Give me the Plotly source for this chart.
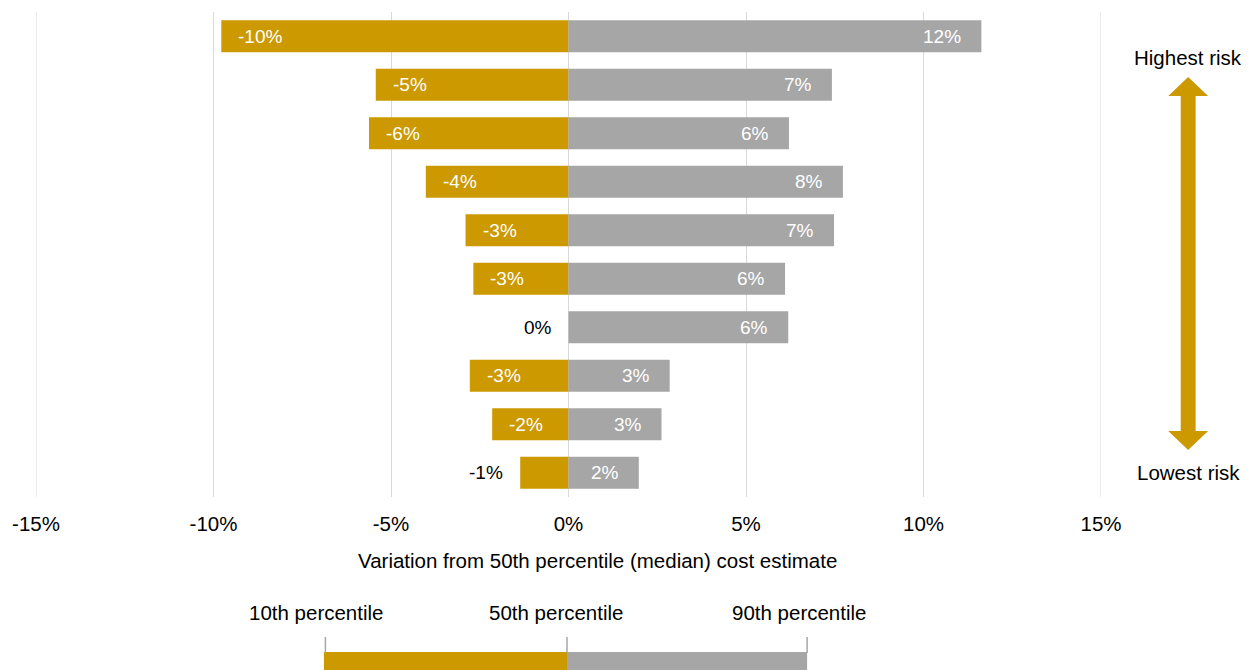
import plotly.graph_objects as go

# ---- data ----
rows = ["R1", "R2", "R3", "R4", "R5", "R6", "R7", "R8", "R9", "R10"]
p10_variation = [-9.78, -5.43, -5.62, -4.02, -2.90, -2.68, 0.0, -2.78, -2.15, -1.36]
p90_variation = [11.63, 7.42, 6.21, 7.73, 7.48, 6.10, 6.19, 2.85, 2.62, 1.98]
tick_values = [-15, -10, -5, 0, 5, 10, 15]
tick_labels = ["-15%", "-10%", "-5%", "0%", "5%", "10%", "15%"]
legend_labels = ["10th percentile", "50th percentile", "90th percentile"]
axis_title = "Variation from 50th percentile (median) cost estimate"

GOLD = "#CC9900"
GREY = "#A6A6A6"
GRID = "#D9D9D9"
FONT = "Liberation Sans, Arial, sans-serif"

OFFX, OFFY = 9, 8  # page offset of the figure
W, H = 1252 - 8, 670 - 8
L, T = 33 - OFFX, 12 - OFFY
PW, PH = 1069, 485
R = W - L - PW
B = H - T - PH


def px(xp):
    return (xp - OFFX - L) / PW


def py(yp):
    return (T + PH - (yp - OFFY)) / PH


fig = go.Figure()
fig.add_trace(go.Bar(y=rows, x=p10_variation, orientation="h", marker_color=GOLD,
                     marker_line_width=0, width=0.66, name="10th", hoverinfo="x"))
fig.add_trace(go.Bar(y=rows, x=p90_variation, orientation="h", marker_color=GREY,
                     marker_line_width=0, width=0.66, name="90th", hoverinfo="x"))


def fmt(v):
    r = int(round(v))
    return f"{r}%"


annotations = []
for cat, v in zip(rows, p10_variation):
    inside = abs(v) >= 1.5
    annotations.append(dict(
        x=v, y=cat, xref="x", yref="y", text=fmt(v), showarrow=False,
        xanchor="left" if inside else "right", xshift=15 if inside else -15,
        font=dict(family=FONT, size=19, color="white" if inside else "black")))
for cat, v in zip(rows, p90_variation):
    annotations.append(dict(
        x=v, y=cat, xref="x", yref="y", text=fmt(v), showarrow=False,
        xanchor="right", xshift=-18,
        font=dict(family=FONT, size=19, color="white")))

# axis title (offset to the right as in the reference)
annotations.append(dict(x=px(597), y=py(560), xref="paper", yref="paper", text=axis_title,
                        showarrow=False, xanchor="center", yanchor="middle",
                        font=dict(family=FONT, size=20.5, color="black")))

# risk arrow labels
annotations.append(dict(x=px(1189.5), y=py(57), xref="paper", yref="paper", text="Highest risk",
                        showarrow=False, xanchor="center", yanchor="middle",
                        font=dict(family=FONT, size=20.5, color="black")))
annotations.append(dict(x=px(1189.5), y=py(472), xref="paper", yref="paper", text="Lowest risk",
                        showarrow=False, xanchor="center", yanchor="middle",
                        font=dict(family=FONT, size=20.5, color="black")))

# bottom key labels
for lab, cx in zip(legend_labels, [314.5, 555, 798.5]):
    annotations.append(dict(x=px(cx), y=py(612), xref="paper", yref="paper", text=lab,
                            showarrow=False, xanchor="center", yanchor="middle",
                            font=dict(family=FONT, size=20.5, color="black")))

shapes = []
# edge gridlines (plotly omits gridlines on the range edges)
for xv in [tick_values[0], tick_values[-1]]:
    shapes.append(dict(type="line", xref="x", yref="paper", x0=xv, x1=xv, y0=0, y1=1,
                       line=dict(color=GRID, width=1), layer="below"))

# double-headed arrow
cx = 1189.5
pts = [(cx, 77), (cx + 20, 96), (cx + 7.5, 96), (cx + 7.5, 431), (cx + 20, 431), (cx, 450),
       (cx - 20, 431), (cx - 7.5, 431), (cx - 7.5, 96), (cx - 20, 96)]
path = "M " + " L ".join(f"{px(a):.5f},{py(b):.5f}" for a, b in pts) + " Z"
shapes.append(dict(type="path", xref="paper", yref="paper", path=path,
                   fillcolor=GOLD, line=dict(width=0)))

# bottom key bar
shapes.append(dict(type="rect", xref="paper", yref="paper", x0=px(322), x1=px(566),
                   y0=py(652), y1=py(680), fillcolor=GOLD, line=dict(width=0)))
shapes.append(dict(type="rect", xref="paper", yref="paper", x0=px(566), x1=px(807),
                   y0=py(652), y1=py(680), fillcolor=GREY, line=dict(width=0)))
for tx in [323.5, 566, 807]:
    shapes.append(dict(type="line", xref="paper", yref="paper", x0=px(tx), x1=px(tx),
                       y0=py(637), y1=py(653), line=dict(color=GREY, width=1.5)))

fig.update_layout(
    width=W, height=H,
    margin=dict(l=L, r=R, t=T, b=B, pad=0),
    paper_bgcolor="white", plot_bgcolor="white",
    barmode="relative", bargap=0.34,
    showlegend=False,
    font=dict(family=FONT, size=20.5, color="black"),
    annotations=annotations, shapes=shapes,
    xaxis=dict(range=[-15, 15], tickvals=tick_values, ticktext=tick_labels,
               showgrid=True, gridcolor=GRID, gridwidth=1,
               zeroline=True, zerolinecolor=GRID, zerolinewidth=1,
               showline=False, ticks="", ticklabelstandoff=12,
               ticklabeloverflow="allow",
               tickfont=dict(family=FONT, size=20.5, color="black"),
               fixedrange=True),
    yaxis=dict(categoryorder="array", categoryarray=rows, autorange="reversed",
               showticklabels=False, showgrid=False, zeroline=False, ticks="",
               fixedrange=True),
)

fig.write_html("out.html")
